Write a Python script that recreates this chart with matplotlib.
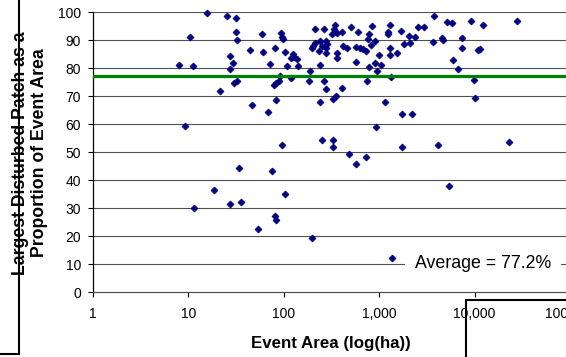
import matplotlib
matplotlib.use("Agg")
import matplotlib.pyplot as plt
from matplotlib.lines import Line2D
from matplotlib.ticker import FuncFormatter, FixedLocator, NullLocator

plt.rcParams['font.family'] = ['Liberation Sans', 'DejaVu Sans']

# Event area (ha) and largest disturbed patch as % of event area
area_ha = [
    8.0, 10.4, 11.3, 9.3, 11.5, 15.6, 18.6, 21.3, 25.3, 27.1,
    27.5, 29.6, 27.2, 29.7, 32.7, 31.4, 31.4, 32.5, 34.3, 36.0,
    43.7, 46.2, 54.0, 59.8, 61.0, 68.8, 72.2, 75.2, 79.9, 79.5,
    83.8, 88.6, 91.2, 82.2, 81.4, 82.0, 93.5, 95.3, 97.4, 95.3,
    102, 103, 107, 118, 124, 129, 137, 142, 118, 182,
    186, 196, 196, 204, 213, 210, 235, 240, 240, 242,
    250, 251, 264, 266, 274, 284, 280, 274, 277, 319,
    346, 336, 359, 407, 324, 355, 328, 330, 361, 364,
    407, 414, 462, 479, 509, 571, 569, 595, 578, 629,
    676, 724, 732, 750, 782, 754, 787, 834, 816, 908,
    908, 937, 921, 1002, 1057, 1150, 1227, 1245, 1313, 1313,
    1307, 1339, 1372, 1529, 1684, 1713, 1734, 1810, 2043, 2128,
    2207, 2390, 2570, 2927, 3708, 3771, 4133, 4551, 4719, 5198,
    5823, 5390, 5965, 6747, 7323, 7323, 9123, 9975, 10170, 10850,
    11390, 12250, 23100, 27810,
]
largest_pct = [
    81.3, 91.3, 80.8, 59.2, 30.0, 99.9, 36.5, 71.9, 98.8, 31.3,
    84.5, 81.7, 79.7, 74.8, 75.3, 98.1, 93.0, 90.1, 44.3, 32.0,
    86.6, 67.0, 22.4, 92.4, 85.7, 64.4, 81.6, 43.3, 87.3, 73.9,
    74.8, 75.6, 77.2, 68.6, 27.0, 25.9, 92.5, 91.3, 90.6, 52.7,
    85.8, 34.9, 80.9, 83.5, 85.2, 84.0, 83.2, 80.9, 76.6, 75.4,
    79.0, 19.3, 87.1, 88.1, 89.0, 94.0, 86.2, 89.6, 81.3, 68.1,
    87.8, 54.5, 93.9, 75.4, 89.6, 88.7, 87.4, 85.4, 72.6, 92.3,
    95.3, 94.2, 92.6, 93.0, 68.9, 70.0, 54.2, 51.9, 85.6, 83.5,
    72.9, 88.0, 87.2, 49.2, 94.8, 45.8, 82.3, 93.0, 87.6, 87.3,
    86.8, 86.2, 48.2, 75.3, 80.5, 90.3, 92.1, 95.2, 88.3, 89.8,
    81.8, 78.9, 59.1, 84.7, 81.0, 68.0, 92.1, 93.1, 95.3, 87.1,
    84.7, 76.9, 12.0, 85.6, 93.4, 63.5, 51.8, 88.6, 91.5, 89.1,
    63.7, 91.1, 94.6, 94.7, 89.3, 98.7, 52.7, 90.8, 90.0, 96.5,
    96.2, 37.8, 83.0, 79.7, 90.9, 87.3, 96.9, 75.7, 69.2, 86.7,
    86.9, 95.5, 53.5, 96.8,
]

AVERAGE = 77.2

x_ticks = [1, 10, 100, 1000, 10000, 100000]
y_ticks = list(range(0, 101, 10))

W, H = 566, 357
fig = plt.figure(figsize=(W / 100, H / 100), dpi=100)
fig.patch.set_facecolor('white')

# plot area (right end runs past the figure edge)
ax = fig.add_axes([93 / W, 65 / H, (570 - 93) / W, 279.7 / H])
ax.set_xscale('log')
ax.set_xlim(x_ticks[0], x_ticks[-1])
ax.set_ylim(y_ticks[0], y_ticks[-1])

ax.xaxis.set_major_locator(FixedLocator(x_ticks))
ax.xaxis.set_minor_locator(NullLocator())
ax.xaxis.set_major_formatter(FuncFormatter(lambda v, p: f"{v:,.0f}"))
ax.set_yticks(y_ticks)

for yv in y_ticks[1:]:
    ax.axhline(yv, color='#505050', lw=0.8, zorder=1)

ax.plot(area_ha, largest_pct, linestyle='none', marker='D', markersize=3.5,
        markerfacecolor='#000080', markeredgecolor='#000080',
        markeredgewidth=0.6, zorder=3, clip_on=False)

ax.axhline(AVERAGE, color='#008000', lw=2.3, zorder=4)

for side in ('top', 'right'):
    ax.spines[side].set_visible(False)
ax.spines['left'].set_color('black')
ax.spines['left'].set_linewidth(0.9)
ax.spines['bottom'].set_color('#505050')
ax.spines['bottom'].set_linewidth(0.9)

ax.tick_params(axis='x', direction='out', length=3.6, width=0.8,
               colors='black', labelsize=10, pad=7)
ax.tick_params(axis='y', direction='out', length=3.6, width=0.8,
               colors='black', labelsize=10, pad=5)

ax.set_xlabel('Event Area (log(ha))', fontsize=12.2, fontweight='bold')
ax.xaxis.set_label_coords((331 - 93) / (570 - 93), -(336 - 292) / 279.7)

fig.text(30 / W, 1 - 153 / H,
         'Largest Disturbed Patch as a\nProportion of Event Area',
         rotation=90, ha='center', va='center', multialignment='center',
         fontsize=12.7, fontweight='bold', linespacing=1.2)

# legend entry on a white ground
fig.text(415 / W, 1 - 263 / H, f'Average = {AVERAGE}%', fontsize=12.8,
         ha='left', va='center', zorder=6,
         bbox=dict(boxstyle='square,pad=0.55', facecolor='white',
                   edgecolor='none'))

# frame edges of neighbouring boxes
fig.add_artist(Line2D([18.5 / W, 18.5 / W], [1.0, 1 - 354 / H],
                      transform=fig.transFigure, color='black', lw=1.5,
                      zorder=10))
fig.add_artist(Line2D([0, 18.5 / W], [1 - 354 / H, 1 - 354 / H],
                      transform=fig.transFigure, color='black', lw=1.5,
                      zorder=10))
fig.add_artist(Line2D([465.7 / W, 465.7 / W], [0, 1 - 300 / H],
                      transform=fig.transFigure, color='black', lw=1.5,
                      zorder=10))
fig.add_artist(Line2D([465.7 / W, 1.0], [1 - 300 / H, 1 - 300 / H],
                      transform=fig.transFigure, color='black', lw=1.5,
                      zorder=10))

fig.savefig('out.png', dpi=100, facecolor='white')
